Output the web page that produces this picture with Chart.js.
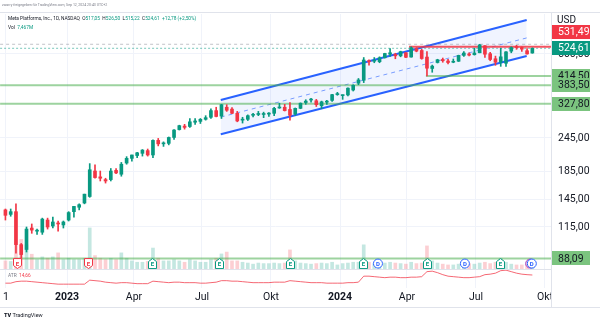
<!DOCTYPE html>
<html>
<head>
<meta charset="utf-8">
<script src="https://cdn.jsdelivr.net/npm/chart.js@4.4.1/dist/chart.umd.min.js"></script>
<style>
  body { margin: 0; background: #fff; font-family: Roboto, "Liberation Sans", sans-serif; }
  #wrap { position: relative; width: 600px; height: 323px; overflow: hidden; }
  canvas { position: absolute; left: 0; top: 0; }
  .t { position: absolute; white-space: nowrap; line-height: 1; color: #131722; }
  .g { color: #089981; }
</style>
</head>
<body>
<div id="wrap">
  <canvas id="chart" width="600" height="323"></canvas>
  <div class="t" style="left:2px;top:4px;font-size:3.5px;color:#787b86">zwarry freigegeben für TradingView.com, Sep 12, 2024 20:43 UTC+2</div>
  <div class="t" style="left:8px;top:16.5px;font-size:4.8px">Meta Platforms, Inc., 1D, NASDAQ&nbsp; O<span class="g">517,05</span>&nbsp; H<span class="g">526,50</span>&nbsp; L<span class="g">515,22</span>&nbsp; C<span class="g">524,61</span>&nbsp; <span class="g">+12,78 (+2,50%)</span></div>
  <div class="t" style="left:8px;top:25.5px;font-size:4.8px">Vol&nbsp; <span class="g">7,467M</span></div>
  <div class="t" style="left:8px;top:273.5px;font-size:4.8px;color:#787b86">ATR&nbsp; <span style="color:#f23645">14,66</span></div>
  <div class="t" style="left:557px;top:15px;font-size:10px">USD</div>
  <div class="t" style="left:4px;top:313px;font-size:5.5px"><b style="font-weight:900">TV</b> TradingView</div>
</div>
<script>
// weekly candles, week 0 = week of 2 Jan 2023
const weekStart = -12;
const opens = [133,128,131,99,95,114,111,110,122,116,119,117,
  122,131,136,141,149,185,176,172,172,186,
  180,198,206,211,215,220,212,240,233,234,
  246,263,271,270,280,282,287,292,309,295,
  318,313,302,285,287,297,299,299,300,302,
  316,318,312,300,315,331,338,336,322,332,
  337,354,351,353,368,390,400,469,470,468,
  484,499,498,492,505,487,523,515,487,442,
  465,477,471,466,470,494,500,497,505,536,
  501,480,466,462,512,530,528,514,504];
const highs = [134,134,140,100,115,118,113,124,124,125,121,121,
  131,137,140,152,197,195,185,174,189,189,
  199,209,212,217,222,223,241,244,237,247,
  263,273,275,289,289,289,296,314,318,326,
  325,317,307,292,298,302,307,305,304,318,
  329,326,331,316,330,339,343,340,335,337,
  355,361,353,375,385,406,485,476,485,488,
  503,523,503,512,506,531.49,527,520,510,455,
  478,483,478,479,495,510,505,525,542.81,537,
  507,491,525,510,531,538,531,523,526.5];
const lows = [122,126,92,88.09,93,109,108,108,113,114,111,114,
  121,125,133,140,148,174,170,167,170,181,
  177,196,201,207,210,210,207,229,228,231,
  242,262,264,268,275,277,285,289,293,289,
  307,301,281,278,284,293,296,291,294,296,
  315,308,285,297,314,326,332,320,314,326,
  334,352,340,350,365,385,392,455,464,464,
  483,490,480,488,484,487,509,478,414.5,428,
  463,466,459,464,469,490,492,495,505,485,
  472,454,450,450,505,520,511,499,503];
const closes = [127,131,99,91,113,112,111,123,115,120,118,120,
  130,137,139,152,187,175,174,170,185,182,
  196,206,212,216,221,212,240,233,234,246,
  262,272,268,281,283,287,291,309,294,325,
  310,302,283,286,296,298,300,299,300,315,
  316,309,297,315,329,335,338,325,333,335,
  354,354,351,374,383,401,475,468,473,484,
  502,505,492,510,486,527,512,481,443,451,
  476,472,465,467,494,504,495,504,540,499,
  477,466,488,509,528,528,521,500,524.61];
const volumes = [30,28,210,110,90,55,35,45,40,45,60,35,
  40,35,35,40,153,50,40,35,40,35,
  60,40,30,25,25,28,78,40,30,30,
  35,30,25,35,30,25,25,35,40,56,
  63,30,30,25,22,18,22,20,20,22,
  20,22,71,30,22,20,18,20,22,20,
  25,15,20,22,25,25,90,25,20,20,
  22,25,22,20,18,25,20,22,86,30,
  22,18,15,15,18,18,20,18,22,25,
  20,25,40,25,18,15,15,18,15];
const atrs = [6.5,6.5,8,8.5,8.5,8,7.5,7,6.5,6,5.5,5.5,
  5.5,5.5,5.5,5.5,9.5,9,8.5,7.5,7,6.5,
  7,7,6.5,6,6,6,8.5,8,7.5,7,
  7.5,7.5,7,7,7,6.5,6.5,7,7.5,9,
  9,8.5,8.5,8,7.5,7,7,7,7,7.5,
  7.5,7.5,9,8.5,8,7.5,7,7,7,6.5,
  6.5,6.5,6.5,7,7,7.5,13.5,13.5,13,12.5,
  12,12.5,12.5,12,12,12.5,12.5,13,18,18.5,
  17,15,13.5,13,12.5,12,12,12.5,13,15,
  15.5,16.5,19,19.5,18,16.5,15.5,15,14.66];

const xMin = -13.01, xMax = 91.54;
const xTickWeeks = [-11.9, -0.3, 12.4, 25.3, 38.4, 51.5, 64.2, 77.3, 90.4];
const xTickLabels = ["1", "2023", "Apr", "Jul", "Okt", "2024", "Apr", "Jul", "Okt"];
const priceTicks = [115, 145, 185, 245, 500];

// parallel channel
const channelX = [28.87, 86.93];
const channelUpper = [338.4, 667.5];
const channelMid = [292.5, 573];
const channelLower = [252.9, 491.6];

// horizontal levels
const greenLevels = [414.5, 383.5, 327.8, 88.09];
const greenStarts = [67.8, xMin, xMin, xMin];
const resistance = 531.49, resistanceStart = 64.6;
const lastPrice = 524.61, highPrice = 542.81;

// events
const markerPrice = 84.3;
const earningsWeeks = [-9.8, 3.7, 15.8, 28.5, 42.0, 55.9, 68.0, 81.9];
const earningsBeat = [false, false, true, true, true, true, true, true];
const dividendWeeks = [58.7, 75.2, 87.9];
const newsWeeks = [87.6];

const fmt = v => v.toFixed(2).replace('.', ',');
Chart.defaults.font.family = 'Roboto, "Liberation Sans", sans-serif';

const xs = closes.map((c, i) => weekStart + i);
const up = closes.map((c, i) => c >= opens[i]);
const candleColors = up.map(u => u ? '#089981' : '#f23645');
const volColors = up.map(u => u ? 'rgba(8,153,129,0.24)' : 'rgba(242,54,69,0.24)');

function hline(price, from, color, width, dash, order) {
  return {
    type: 'line', yAxisID: 'y', order: order,
    data: [{x: from, y: price}, {x: xMax, y: price}],
    borderColor: color, borderWidth: width, borderDash: dash || [],
    pointRadius: 0, fill: false
  };
}

const datasets = [
  {
    type: 'line', yAxisID: 'y', order: 6,
    data: channelX.map((x, i) => ({x: x, y: channelUpper[i]})),
    borderColor: '#2962ff', borderWidth: 2, pointRadius: 0,
    fill: '+1', backgroundColor: 'rgba(41,98,255,0.07)'
  },
  {
    type: 'line', yAxisID: 'y', order: 6,
    data: channelX.map((x, i) => ({x: x, y: channelLower[i]})),
    borderColor: '#2962ff', borderWidth: 2, pointRadius: 0, fill: false
  },
  {
    type: 'line', yAxisID: 'y', order: 6,
    data: channelX.map((x, i) => ({x: x, y: channelMid[i]})),
    borderColor: 'rgba(41,98,255,0.6)', borderWidth: 1, borderDash: [4, 4], pointRadius: 0, fill: false
  },
  hline(highPrice, xMin, 'rgba(120,123,134,0.45)', 1, [3, 3], 5),
  hline(lastPrice, xMin, 'rgba(8,153,129,0.55)', 1, [2, 2], 5),
  hline(resistance, resistanceStart, 'rgba(242,54,69,0.85)', 2, [], 3),
  ...greenLevels.map((p, i) => hline(p, greenStarts[i], 'rgba(76,175,80,0.55)', 2, [], 4)),
  {
    type: 'bar', yAxisID: 'yv', order: 8, grouped: false,
    data: xs.map((x, i) => ({x: x, y: [0, volumes[i]]})),
    backgroundColor: volColors, barThickness: 3
  },
  {
    type: 'line', yAxisID: 'ya', order: 7,
    data: xs.map((x, i) => ({x: x, y: atrs[i]})),
    borderColor: 'rgba(242,54,69,0.75)', borderWidth: 1, pointRadius: 0, fill: false, tension: 0
  },
  {
    type: 'bar', yAxisID: 'y', order: 1, grouped: false,
    data: xs.map((x, i) => ({x: x, y: [lows[i], highs[i]]})),
    backgroundColor: candleColors, barThickness: 1
  },
  {
    type: 'bar', yAxisID: 'y', order: 0, grouped: false,
    data: xs.map((x, i) => ({x: x, y: [opens[i], closes[i]]})),
    backgroundColor: candleColors, barThickness: 3, minBarLength: 1
  }
];

const overlay = {
  id: 'overlay',
  afterDatasetsDraw(chart) {
    const {ctx, scales: {x, y}} = chart;
    const my = y.getPixelForValue(markerPrice);
    ctx.save();
    ctx.lineWidth = 1;
    ctx.textAlign = 'center';
    ctx.textBaseline = 'middle';
    ctx.font = 'bold 6px Roboto, sans-serif';
    newsWeeks.forEach(w => {
      const px = x.getPixelForValue(w);
      ctx.beginPath(); ctx.arc(px, my, 4.5, 0, Math.PI * 2);
      ctx.fillStyle = '#fff'; ctx.fill();
      ctx.strokeStyle = '#9c27b0'; ctx.stroke();
    });
    dividendWeeks.forEach(w => {
      const px = x.getPixelForValue(w);
      ctx.beginPath(); ctx.arc(px, my, 4.5, 0, Math.PI * 2);
      ctx.fillStyle = '#fff'; ctx.fill();
      ctx.strokeStyle = '#2962ff'; ctx.stroke();
      ctx.fillStyle = '#2962ff'; ctx.fillText('D', px, my + 0.5);
    });
    earningsWeeks.forEach((w, i) => {
      const px = Math.round(x.getPixelForValue(w)) + 0.5;
      const c = earningsBeat[i] ? '#089981' : '#f23645';
      ctx.beginPath();
      if (earningsBeat[i]) {
        ctx.moveTo(px - 4, my + 5); ctx.lineTo(px + 4, my + 5); ctx.lineTo(px + 4, my - 2);
        ctx.lineTo(px, my - 5); ctx.lineTo(px - 4, my - 2);
      } else {
        ctx.moveTo(px - 4, my - 5); ctx.lineTo(px + 4, my - 5); ctx.lineTo(px + 4, my + 2);
        ctx.lineTo(px, my + 5); ctx.lineTo(px - 4, my + 2);
      }
      ctx.closePath();
      ctx.fillStyle = '#fff'; ctx.fill();
      ctx.strokeStyle = c; ctx.stroke();
      ctx.fillStyle = c; ctx.fillText('E', px, my + 0.5);
    });
    ctx.restore();
  },
  afterDraw(chart) {
    const {ctx, scales: {y, yv}, chartArea: a} = chart;
    ctx.save();
    ctx.fillStyle = '#fff';
    ctx.fillRect(a.right + 1, a.bottom, 600 - a.right, 19);
    ctx.strokeStyle = '#e0e3eb';
    ctx.lineWidth = 1;
    const sep = Math.round(yv.getPixelForValue(0)) + 0.5;
    ctx.beginPath();
    ctx.moveTo(a.left, sep); ctx.lineTo(a.right, sep);
    ctx.moveTo(0, 12.5); ctx.lineTo(600, 12.5);
    ctx.moveTo(0, 307.5); ctx.lineTo(600, 307.5);
    ctx.moveTo(a.right + 0.5, 12.5); ctx.lineTo(a.right + 0.5, 307.5);
    ctx.stroke();

    ctx.font = '10.5px Roboto, sans-serif';
    ctx.textAlign = 'left';
    ctx.textBaseline = 'middle';
    const box = (price, cy, bg, fg) => {
      ctx.fillStyle = bg;
      ctx.fillRect(a.right + 1, Math.round(cy - 7), 38, 14);
      ctx.fillStyle = fg;
      ctx.fillText(fmt(price), a.right + 7, cy + 0.5);
    };
    greenLevels.forEach(p => box(p, y.getPixelForValue(p), '#7bc47f', '#131722'));
    const lastY = y.getPixelForValue(lastPrice);
    box(resistance, Math.min(y.getPixelForValue(resistance), lastY - 16), '#f23645', '#fff');
    box(lastPrice, lastY, '#089981', '#fff');
    ctx.restore();
  }
};

new Chart(document.getElementById('chart'), {
  type: 'bar',
  data: {datasets: datasets},
  options: {
    responsive: false,
    animation: false,
    devicePixelRatio: 1,
    layout: {padding: {top: 14, bottom: 16, left: 0, right: 0}},
    plugins: {legend: {display: false}, tooltip: {enabled: false}},
    scales: {
      x: {
        type: 'linear', min: xMin, max: xMax, offset: false,
        afterBuildTicks: s => { s.ticks = xTickWeeks.map(v => ({value: v})); },
        afterFit: s => { s.height = 19; },
        ticks: {
          callback: (v, i) => xTickLabels[i],
          autoSkip: false, maxRotation: 0, padding: 3, color: '#131722',
          font: c => ({size: 10.5, weight: (xTickLabels[c.index] || '').length === 4 ? 'bold' : 'normal'})
        },
        grid: {color: '#f0f3fa', drawTicks: false, offset: false},
        border: {display: false}
      },
      y: {
        type: 'logarithmic', position: 'right', min: 68.5, max: 702,
        afterBuildTicks: s => { s.ticks = priceTicks.map(v => ({value: v})); },
        afterFit: s => { s.width = 49; },
        ticks: {callback: v => fmt(v), autoSkip: false, padding: 7, color: '#131722', font: {size: 10.5}},
        grid: {color: '#f0f3fa', drawTicks: false},
        border: {display: false}
      },
      yv: {type: 'linear', display: false, min: -71, max: 951},
      ya: {type: 'linear', display: false, min: 1.66, max: 275.66}
    }
  },
  plugins: [overlay]
});
</script>
</body>
</html>
